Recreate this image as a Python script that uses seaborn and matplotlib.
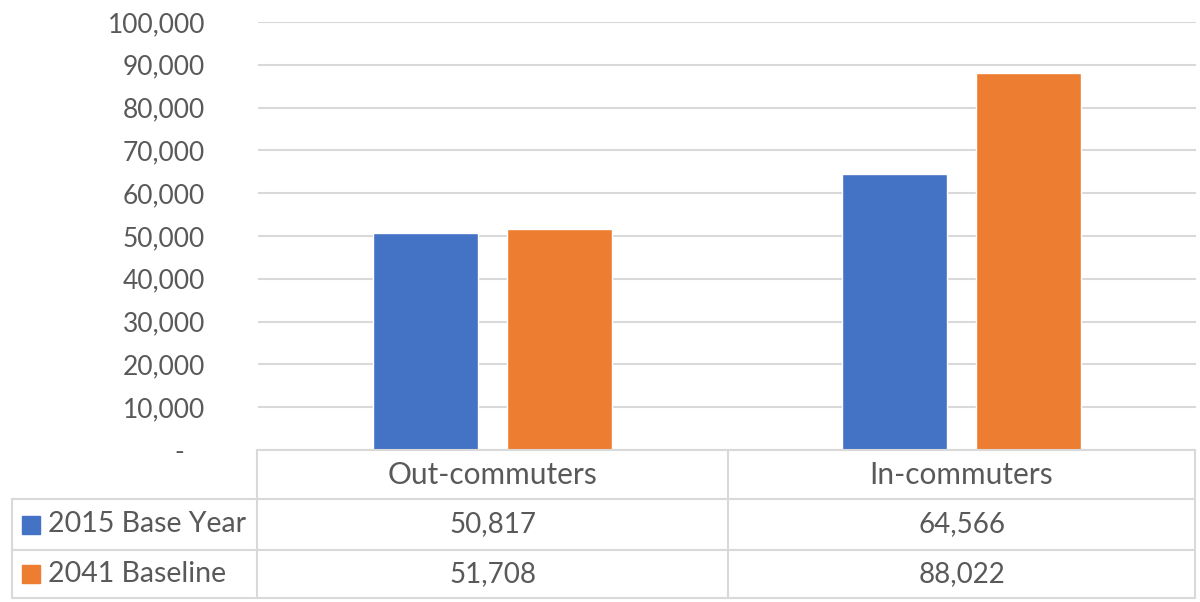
import seaborn as sns
import matplotlib.pyplot as plt
import pandas as pd
from matplotlib.lines import Line2D
from matplotlib.patches import Rectangle
from matplotlib.ticker import FuncFormatter

# Dados
categorias = ['Out-commuters', 'In-commuters']
series = ['2015 Base Year', '2041 Baseline']
valores_2015 = [50817, 64566]
valores_2041 = [51708, 88022]
cores = ['#4472C4', '#ED7D31']
y_ticks = [0, 10000, 20000, 30000, 40000, 50000, 60000, 70000, 80000, 90000, 100000]

df = pd.DataFrame({
    'categoria': categorias * 2,
    'serie': [series[0]] * 2 + [series[1]] * 2,
    'valor': valores_2015 + valores_2041,
})

sns.set_style('white')
plt.rcParams['font.family'] = ['Lato', 'DejaVu Sans']
texto = '#595959'
grade = '#D9D9D9'
fs_num = 20     # numeros
fs_cab = 21.5   # cabecalho da tabela
fs_ser = 20.5   # nomes das series
fs_eixo = 19

W, H = 1200, 602
fig = plt.figure(figsize=(12, 6.02), dpi=100)

def fx(px):
    return px / W

def fy(py):
    return 1 - py / H

# Area do grafico (pixels da referencia)
x0, x1 = 258, 1196
ytop, ybot = 22, 450
ax = fig.add_axes([fx(x0), fy(ybot), fx(x1) - fx(x0), fy(ytop) - fy(ybot)])

sns.barplot(data=df, x='categoria', y='valor', hue='serie', order=categorias,
            hue_order=series, palette=cores, width=0.571, gap=0.215,
            ax=ax, legend=False, saturation=1)

ax.set_xlim(-0.5, 1.5)
ax.set_ylim(0, 100000)
ax.set_yticks(y_ticks)
ax.yaxis.set_major_formatter(FuncFormatter(lambda v, p: '-   ' if v == 0 else f'{v:,.0f}'))
ax.tick_params(axis='y', length=0, pad=38, labelsize=fs_eixo, labelcolor=texto)
ax.set_xticks([])
ax.set_xlabel('')
ax.set_ylabel('')
ax.grid(axis='y', color=grade, linewidth=1.5)
ax.set_axisbelow(True)
for s in ax.spines.values():
    s.set_visible(False)

# Tabela de dados
lw = 1.5
left, col_sep, right = 12, 257, 1195
mid = 728
r0, r1, r2, r3 = 450, 499, 550, 598

linhas = [
    ((col_sep, right), (r0, r0)),
    ((left, right), (r1, r1)),
    ((left, right), (r2, r2)),
    ((left, right), (r3, r3)),
    ((left, left), (r1, r3)),
    ((col_sep, col_sep), (r0, r3)),
    ((mid, mid), (r0, r3)),
    ((right, right), (r0, r3)),
]
for xs, ys in linhas:
    fig.add_artist(Line2D([fx(xs[0]), fx(xs[1])], [fy(ys[0]), fy(ys[1])],
                          color=grade, linewidth=lw, transform=fig.transFigure))

centros = [(col_sep + mid) / 2, (mid + right) / 2]
for c, cx in zip(categorias, centros):
    fig.text(fx(cx), fy((r0 + r1) / 2), c, ha='center', va='center',
             fontsize=fs_cab, color=texto)

linhas_y = [(r1 + r2) / 2, (r2 + r3) / 2]
for nome, vals, cor, yy in zip(series, [valores_2015, valores_2041], cores, linhas_y):
    fig.add_artist(Rectangle((fx(22), fy(yy + 9)), fx(18), fy(yy - 9) - fy(yy + 9),
                             color=cor, transform=fig.transFigure))
    fig.text(fx(48), fy(yy), nome, ha='left', va='center', fontsize=fs_ser, color=texto)
    for v, cx in zip(vals, centros):
        fig.text(fx(cx), fy(yy), f'{v:,}', ha='center', va='center',
                 fontsize=fs_num, color=texto)

plt.savefig('out.png', dpi=100)
